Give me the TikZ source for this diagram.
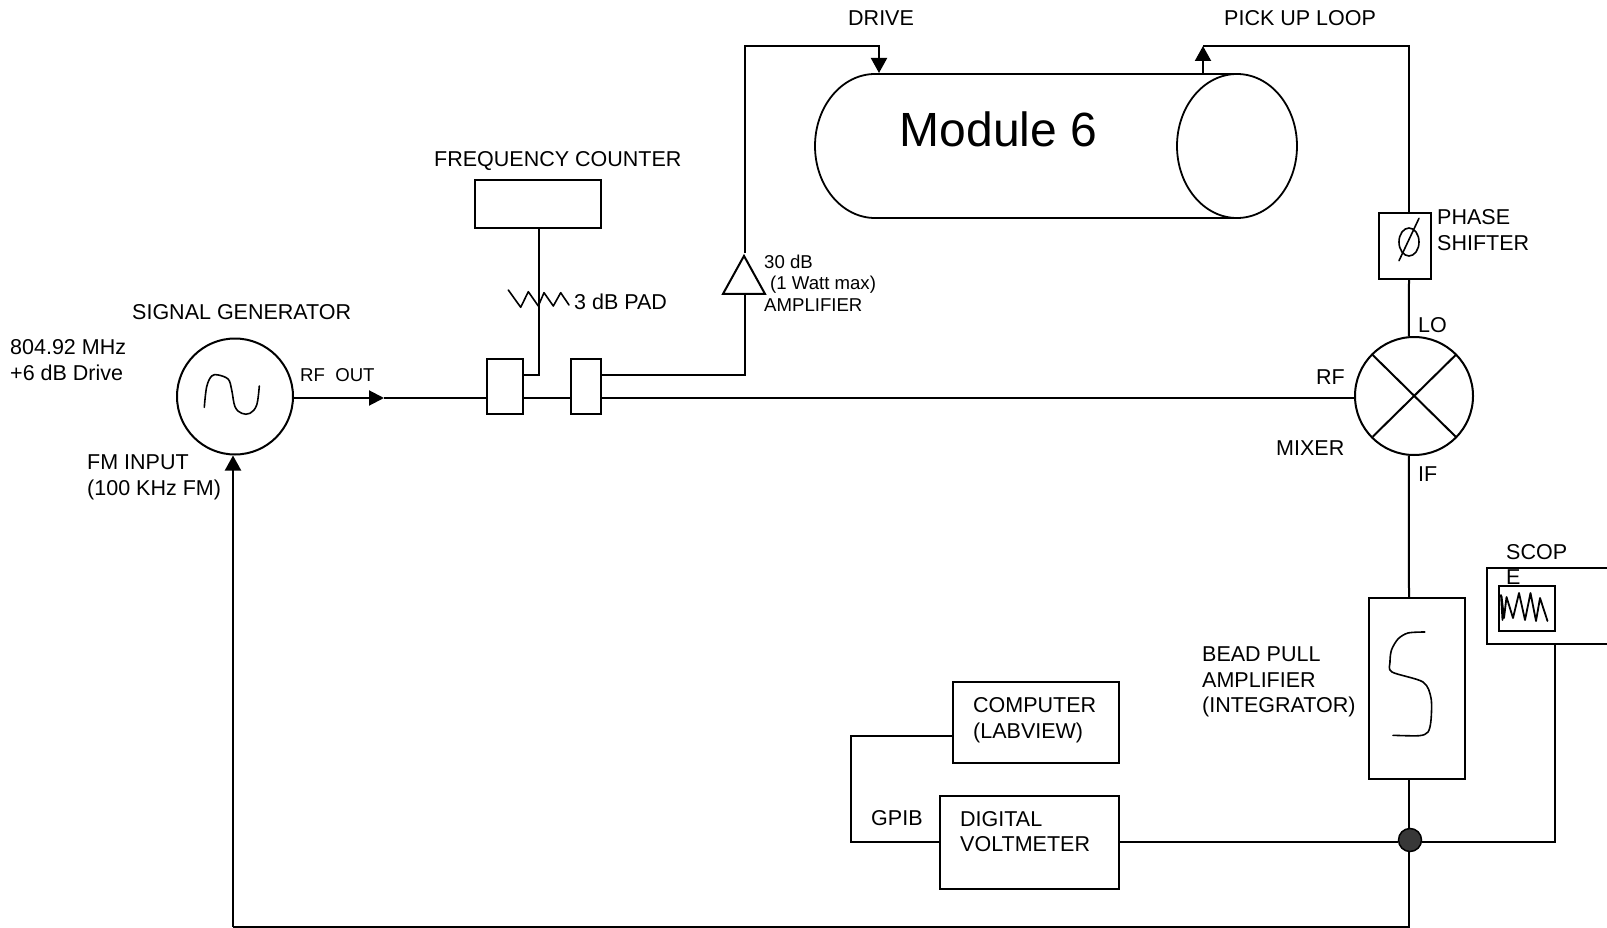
\documentclass[tikz,border=0pt]{standalone}
\usepackage{fontspec}
\setmainfont{Liberation Sans}
\usetikzlibrary{arrows.meta,shapes.geometric,calc}
\tikzset{
  wire/.style={line width=2pt,draw=black,line cap=butt,line join=miter},
  hand/.style={line width=1.6pt,draw=black,line join=round,line cap=round},
  box/.style={draw=black,line width=2pt,fill=white,inner sep=0pt,rectangle},
  round/.style={draw=black,line width=2pt,fill=white,circle,inner sep=0pt},
  lbl/.style={inner sep=0pt,anchor=base west,font=\fontsize{21.5}{25.6}\selectfont,text=black,align=left},
  small/.style={lbl,font=\fontsize{18.6}{21.6}\selectfont},
  head/.style={-{Triangle[length=15pt,width=16pt]}},
}
\begin{document}
\begin{tikzpicture}[x=1pt,y=-1pt]
\useasboundingbox (0,0) rectangle (1607,928);
\fill[white] (0,0) rectangle (1607,928);

% junction helpers
\coordinate (rfmid) at (384,398);
\coordinate (drvtop1) at (745,46);
\coordinate (drvtop2) at (879,46);
\coordinate (drvtip) at (879,73);
\coordinate (pkfoot) at (1203,74);
\coordinate (pktip) at (1203,46);
\coordinate (pkcorner) at (1409,46);
\coordinate (botleft) at (233,927);
\coordinate (botright) at (1409,927);
\coordinate (gpibA) at (851,736);
\coordinate (gpibB) at (851,842);
\coordinate (scopecorner) at (1555,841.5);
\coordinate (tapA) at (539,375);
\coordinate (tapB) at (745,375);

% Module cylinder
\node[draw=black,line width=1.8pt,ellipse,minimum width=120pt,minimum height=144pt,inner sep=0pt] (modend) at (1237,146) {};
\draw[wire,line width=1.8pt] (1237,74) -- (875,74) arc[start angle=90,end angle=270,x radius=60pt,y radius=72pt] -- (1237,218);
\node[lbl,font=\fontsize{48}{50}\selectfont] (modlbl) at (899.5,147) {Module 6};

% nodes
\node[round,minimum size=116pt] (gen) at (235,396.5) {};
\node[round,minimum size=118pt] (mixer) at (1414,396) {};
\node[box,minimum width=36pt,minimum height=55pt] (c1) at (505,386.5) {};
\node[box,minimum width=30pt,minimum height=55pt] (c2) at (586,386.5) {};
\node[box,minimum width=126pt,minimum height=48pt] (fc) at (538,204) {};
\node[draw=black,line width=2pt,fill=white,isosceles triangle,shape border rotate=90,isosceles triangle stretches,minimum width=42pt,minimum height=38pt,inner sep=0pt] (amp) at (744,281.5) {};
\node[box,minimum width=52pt,minimum height=66pt] (phase) at (1405,246) {};
\node[box,minimum width=96pt,minimum height=181pt] (bead) at (1417,688.5) {};
\node[box,minimum width=166pt,minimum height=81.6pt] (comp) at (1036,722.5) {};
\node[box,minimum width=179pt,minimum height=93.5pt] (dvm) at (1029.5,842.5) {};
\node[circle,draw=black,fill=black!78,line width=1.5pt,minimum size=23pt,inner sep=0pt] (dot) at (1410,840) {};

% Scope
\draw[wire] (1607,568) -- (1487,568) -- (1487,644) -- (1607,644);
\coordinate (scopefoot) at (1555,644);
\node[box,minimum width=56pt,minimum height=45pt] (screen) at (1527,608.5) {};

% connectors
\draw[wire,head,{}-{Triangle[length=15pt,width=15pt]}] (gen.east |- rfmid) -- (rfmid);
\draw[wire] (rfmid) -- (c1.west |- rfmid);
\draw[wire] (c1.east |- rfmid) -- (c2.west |- rfmid);
\draw[wire] (c2.east |- rfmid) -- (mixer.west |- rfmid);
\draw[wire] (c1.east |- tapA) -- (tapA) -- (fc.south -| tapA);
\draw[wire] (c2.east |- tapB) -- (tapB) -- (amp.south -| tapB);
\draw[wire,head] (amp.north -| drvtop1) -- (drvtop1) -- (drvtop2) -- (drvtip);
\draw[wire] (phase.north -| pkcorner) -- (pkcorner) -- (pktip);
\draw[wire,head] (pkfoot) -- (pktip);
\draw[wire] (phase.south -| pkcorner) -- (mixer.95);
\draw[wire] (mixer.265) -- (bead.north -| pkcorner);
\draw[wire] (bead.south -| pkcorner) -- (dot.north -| pkcorner);
\draw[wire] (dot.south -| pkcorner) -- (botright) -- (botleft);
\draw[wire,head] (botleft) -- (gen.south -| botleft);
\draw[wire] (dvm.east |- scopecorner) -- (dot.west |- scopecorner);
\draw[wire] (dot.east |- scopecorner) -- (scopecorner) -- (scopefoot);
\draw[wire] (comp.west |- gpibA) -- (gpibA) -- (gpibB) -- (dvm.west |- gpibB);

% mixer cross
\draw[wire] (1372.7,355) -- (1455.7,436.7);
\draw[wire] (1372.7,436.7) -- (1455.7,355);

% hand glyphs
\draw[hand] plot[smooth,tension=0.6] coordinates {(204.3,407.3)(206.7,386.7)(211.7,376)(218.3,375)(228.3,379.3)(231.7,390)(235,406.7)(241.7,413.3)(250,413.3)(256.7,405)(259.3,386)};
\draw[hand] (508.3,290) -- (520.7,307.3) -- (528.3,291.7) -- (538.3,306) -- (544,292.7) -- (553.3,306) -- (560.7,292.7) -- (569,305);
\draw[hand] (1409,242) ellipse[x radius=10pt,y radius=14pt];
\draw[hand] (1399,260.7) -- (1419,218.3);
\draw[hand] plot[smooth,tension=0.5] coordinates {(1424.7,632)(1408,633)(1398,639)(1391.5,650)(1390,662)(1392,672)(1423,682)(1431,698)(1431,720)(1428,732)(1419,735.7)(1393,735.3)};
\draw[hand,line width=1.8pt] (1501,595) -- (1502.5,620) -- (1501.5,596) -- (1504,618) -- (1506.5,597) -- (1513,618) -- (1519,593) -- (1525,620) -- (1530.5,593) -- (1536,621) -- (1540,598) -- (1547.5,621);

% labels
\node[lbl] (t1) at (848,25.5) {DRIVE};
\node[lbl] (t2) at (1224,25.5) {PICK UP LOOP};
\node[lbl] (t3) at (434,167) {FREQUENCY COUNTER};
\node[lbl] (t4) at (132,319.5) {SIGNAL GENERATOR};
\node[lbl] (t5) at (10,354) {804.92 MHz};
\node[lbl] (t5b) at (10,380) {+6 dB Drive};
\node[small] (t6) at (300,381.5) {RF\ \ OUT};
\node[lbl] (t7) at (87,469.5) {FM INPUT};
\node[lbl] (t7b) at (87,495.5) {(100 KHz FM)};
\node[lbl] (t8) at (574,309) {3 dB PAD};
\node[small] (t9) at (764,268.5) {30 dB};
\node[small] (t9b) at (770,290) {(1 Watt max)};
\node[small] (t9c) at (764,311) {AMPLIFIER};
\node[lbl] (t10) at (1437,224.5) {PHASE};
\node[lbl] (t10b) at (1437,250.5) {SHIFTER};
\node[lbl] (t11) at (1418,332.5) {LO};
\node[lbl] (t12) at (1316,384) {RF};
\node[lbl] (t13) at (1276,455) {MIXER};
\node[lbl] (t14) at (1418,481.5) {IF};
\node[lbl] (t15) at (1506,559) {SCOP};
\node[lbl] (t15b) at (1506,584) {E};
\node[lbl] (t16) at (1202,661) {BEAD PULL};
\node[lbl] (t16b) at (1202,687) {AMPLIFIER};
\node[lbl] (t16c) at (1202,712) {(INTEGRATOR)};
\node[lbl] (t17) at (973,712) {COMPUTER};
\node[lbl] (t17b) at (973,738) {(LABVIEW)};
\node[lbl] (t18) at (960,826) {DIGITAL};
\node[lbl] (t18b) at (960,851.5) {VOLTMETER};
\node[lbl] (t19) at (871,825) {GPIB};
\end{tikzpicture}
\end{document}
